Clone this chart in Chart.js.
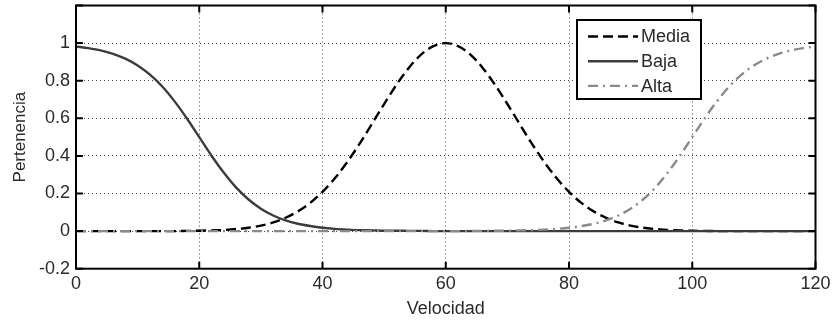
<!DOCTYPE html>
<html><head><meta charset="utf-8">
<script src="https://cdn.jsdelivr.net/npm/chart.js@4"></script>
<style>html,body{margin:0;padding:0;background:#fff}#wrap{width:835px;height:320px;position:relative}</style>
</head><body><div id="wrap"><canvas id="c"></canvas></div>
<script>
const velocidad = [0,2,4,6,8,10,12,14,16,18,20,22,24,26,28,30,32,34,36,38,40,42,44,46,48,50,52,54,56,58,60,62,64,66,68,70,72,74,76,78,80,82,84,86,88,90,92,94,96,98,100,102,104,106,108,110,112,114,116,118,120];
const media = [0,0,0,0,0,0,0,0,0,0.001,0.002,0.004,0.006,0.011,0.018,0.029,0.046,0.071,0.105,0.150,0.209,0.281,0.367,0.464,0.569,0.676,0.778,0.868,0.939,0.984,1.000,0.984,0.939,0.868,0.778,0.676,0.569,0.464,0.367,0.281,0.209,0.150,0.105,0.071,0.046,0.029,0.018,0.011,0.006,0.004,0.002,0.001,0,0,0,0,0,0,0,0,0];
const baja = [0.982,0.973,0.961,0.943,0.917,0.881,0.832,0.769,0.690,0.599,0.500,0.401,0.310,0.231,0.168,0.119,0.083,0.057,0.039,0.027,0.018,0.012,0.008,0.005,0.004,0.002,0.002,0.001,0.001,0,0,0,0,0,0,0,0,0,0,0,0,0,0,0,0,0,0,0,0,0,0,0,0,0,0,0,0,0,0,0,0];
const alta = [0,0,0,0,0,0,0,0,0,0,0,0,0,0,0,0,0,0,0,0,0,0,0,0,0,0,0,0,0,0,0,0,0.001,0.001,0.002,0.002,0.004,0.005,0.008,0.012,0.018,0.027,0.039,0.057,0.083,0.119,0.168,0.231,0.310,0.401,0.500,0.599,0.690,0.769,0.832,0.881,0.917,0.943,0.961,0.973,0.982];
const xTicks = [0,20,40,60,80,100,120];
const yTicks = [-0.2,0,0.2,0.4,0.6,0.8,1,1.2];
const yLabelTicks = [-0.2,0,0.2,0.4,0.6,0.8,1];
const seriesNames = ['Media','Baja','Alta'];

const FONT = "'Liberation Sans', Arial, sans-serif";
const TXT = '#2a2a2a';

function pts(arr){ return velocidad.map((x,i)=>({x:x,y:arr[i]})); }

const datasets = [
  {label:seriesNames[0], data:pts(media), borderColor:'#000000', borderWidth:2.4, borderDash:[10,5], order:2},
  {label:seriesNames[1], data:pts(baja), borderColor:'#3c3c3c', borderWidth:2.4, borderDash:[], order:1},
  {label:seriesNames[2], data:pts(alta), borderColor:'#8a8a8a', borderWidth:2.4, borderDash:[10,5,2,5], order:0}
];

const boxPlugin = {
  id:'box',
  afterDatasetsDraw(chart){
    const c = chart.ctx, a = chart.chartArea;
    const xs = chart.scales.x, ys = chart.scales.y;
    c.save();
    c.setLineDash([]);
    c.strokeStyle = '#000'; c.lineWidth = 2;
    c.strokeRect(a.left, a.top, a.right-a.left, a.bottom-a.top);
    const L = 7;
    c.beginPath();
    yTicks.forEach(v=>{ const p = ys.getPixelForValue(v);
      c.moveTo(a.left,p); c.lineTo(a.left+L,p); c.moveTo(a.right,p); c.lineTo(a.right-L,p); });
    xTicks.forEach(v=>{ const p = xs.getPixelForValue(v);
      c.moveTo(p,a.bottom); c.lineTo(p,a.bottom-L); c.moveTo(p,a.top); c.lineTo(p,a.top+L); });
    c.stroke();
    // legend
    const bx = a.left + 501, by = a.top + 14.5, bw = 124, bh = 79;
    c.fillStyle = '#fff'; c.fillRect(bx,by,bw,bh);
    c.lineWidth = 2; c.strokeStyle = '#000'; c.strokeRect(bx,by,bw,bh);
    const order = [0,1,2];
    order.forEach((di,k)=>{
      const ds = chart.data.datasets[di];
      const yy = by + 16.5 + k*24.7;
      c.beginPath(); c.setLineDash(ds.borderDash); c.strokeStyle = ds.borderColor; c.lineWidth = ds.borderWidth;
      c.moveTo(bx+11, yy); c.lineTo(bx+61, yy); c.stroke();
      c.setLineDash([]);
      c.fillStyle = TXT; c.font = '18px ' + FONT; c.textBaseline = 'middle'; c.textAlign = 'left';
      c.fillText(ds.label, bx+64, yy+1);
    });
    c.restore();
  }
};

const gridColor = (ctx, edges) => {
  const v = ctx.tick ? ctx.tick.value : null;
  if (v === null) return 'rgba(0,0,0,0)';
  return edges.some(e => Math.abs(v-e) < 1e-6) ? 'rgba(0,0,0,0)' : '#444';
};

new Chart(document.getElementById('c'), {
  type:'line',
  data:{ datasets },
  options:{
    responsive:true, maintainAspectRatio:false, animation:false,
    events:[],
    elements:{ point:{radius:0}, line:{tension:0, cubicInterpolationMode:'monotone', fill:false} },
    layout:{ padding:{left:0, right:19.5, top:5.5, bottom:0} },
    plugins:{ legend:{display:false}, tooltip:{enabled:false} },
    scales:{
      x:{ type:'linear', min:0, max:120,
        afterBuildTicks(s){ s.ticks = xTicks.map(v=>({value:v})); },
        afterFit(s){ s.height = 51.3; s.paddingLeft = 0; s.paddingRight = 0; },
        grid:{ color:(ctx)=>gridColor(ctx,[0,120]), lineWidth:1, drawTicks:false },
        border:{ display:false, dash:[1,3] },
        ticks:{ padding:5, color:TXT, font:{family:FONT, size:18}, maxRotation:0, autoSkip:false, callback:(v)=>String(v) },
        title:{ display:true, text:'Velocidad', color:TXT, font:{family:FONT, size:18}, padding:{top:2, bottom:0} }
      },
      y:{ type:'linear', min:-0.2, max:1.2,
        afterBuildTicks(s){ s.ticks = yTicks.map(v=>({value:v})); },
        afterFit(s){ s.width = 76; s.paddingTop = 0; s.paddingBottom = 0; },
        grid:{ color:(ctx)=>gridColor(ctx,[-0.2,1.2]), lineWidth:1, drawTicks:false },
        border:{ display:false, dash:[1,3] },
        ticks:{ padding:6, color:TXT, font:{family:FONT, size:18}, autoSkip:false,
          callback:(v)=>{ const r = Math.round(v*10)/10; return yLabelTicks.some(t=>Math.abs(t-r)<1e-6) ? String(r) : ''; } },
        title:{ display:true, text:'Pertenencia', color:TXT, font:{family:FONT, size:17}, padding:{top:10, bottom:0} }
      }
    }
  },
  plugins:[boxPlugin]
});
</script>
</body></html>
